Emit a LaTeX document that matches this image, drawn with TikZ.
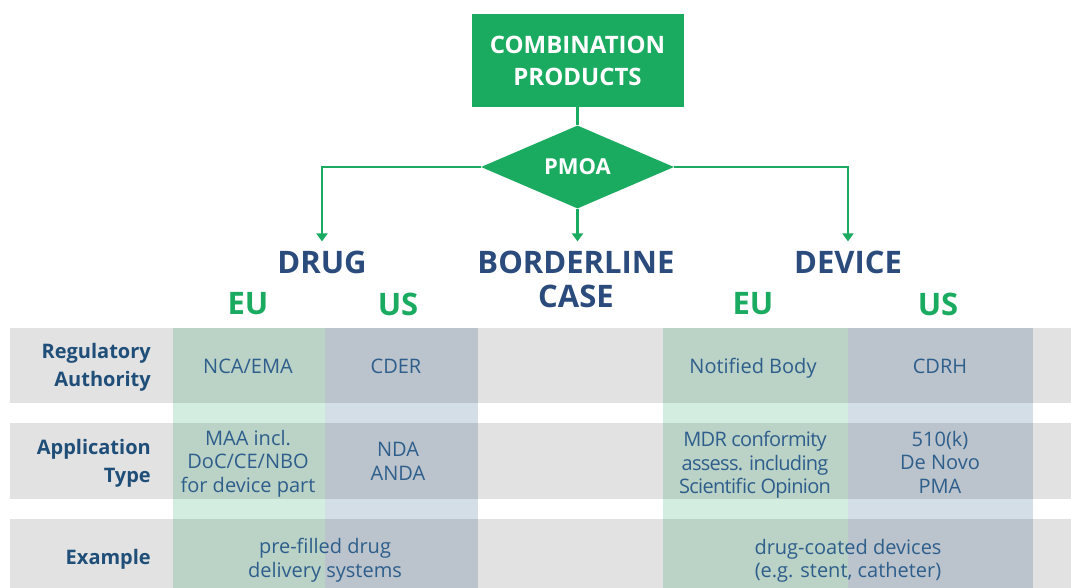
\documentclass[tikz,border=0pt]{standalone}
\usepackage{fontspec}
\setmainfont{Open Sans}
\usetikzlibrary{shapes.geometric,arrows.meta}
\definecolor{cgreen}{HTML}{1AAB60}
\definecolor{hblue}{HTML}{2A4B7C}
\definecolor{lblue}{HTML}{1F4E79}
\definecolor{tblue}{HTML}{2E5E8C}
\definecolor{colg}{HTML}{D3EEE0}
\definecolor{colb}{HTML}{D4DEE7}
\tikzset{
  topbox/.style={fill=cgreen, text=white, font=\bfseries\fontsize{24}{32}\selectfont, align=center, minimum width=212pt, minimum height=93pt, inner sep=0pt},
  dia/.style={diamond, fill=cgreen, text=white, font=\bfseries\fontsize{22}{25}\selectfont, minimum width=193pt, minimum height=79pt, inner sep=0pt},
  head/.style={text=hblue, font=\bfseries\fontsize{31}{34}\selectfont, align=center, inner sep=0pt},
  region/.style={text=cgreen, font=\bfseries\fontsize{31}{34}\selectfont, inner sep=0pt},
  rowlabel/.style={text=lblue, font=\bfseries\fontsize{20}{28}\selectfont, align=right, inner sep=0pt, anchor=east},
  cell/.style={text=tblue, font=\fontsize{20}{23.5}\selectfont, align=center, inner sep=0pt},
  tightcell/.style={cell, font=\fontsize{20}{23.5}\selectfont\addfontfeature{LetterSpace=-3.5}},
  conn/.style={draw=cgreen, line width=2.5pt},
  arr/.style={conn, -{Triangle[width=11pt,length=8pt]}, shorten >=9pt},
  band/.style={fill=black, fill opacity=0.115}
}
\begin{document}
\begin{tikzpicture}[x=1pt,y=-1pt]
\useasboundingbox[fill=white] (0,0) rectangle (1071,588);
% columns
\fill[colg] (173,328) rectangle (325,588);
\fill[colb] (325,328) rectangle (478,588);
\fill[colg] (663,328) rectangle (848,588);
\fill[colb] (848,328) rectangle (1033,588);
% gray bands
\fill[band] (10,328) rectangle (1071,403);
\fill[band] (10,423) rectangle (1071,499);
\fill[band] (10,519) rectangle (1071,588);

% flow
\node[topbox] (cp) at (577.5,60.5) {COMBINATION\\PRODUCTS};
\node[dia] (pmoa) at (577.5,167) {PMOA};
\node[head] (drug) at (322,262) {DRUG};
\node[head] (border) at (576,279) {BORDERLINE\\CASE};
\node[head] (device) at (848,262) {DEVICE};

\draw[conn] (cp) -- (pmoa);
\draw[arr] (pmoa.west) -| (drug.north);
\draw[arr] (pmoa.south) -- (pmoa.south |- border.north);
\draw[arr] (pmoa.east) -| (device.north);

% regions
\node[region] (eu1) at (248,304) {EU};
\node[region] (us1) at (398,304) {US};
\node[region] (eu2) at (753,304) {EU};
\node[region] (us2) at (938,304) {US};

% row labels
\node[rowlabel] (r1) at (151,367) {Regulatory\\Authority};
\node[rowlabel] (r2) at (151,463) {Application\\Type};
\node[rowlabel] (r3) at (151,559) {Example};

% cells
\node[cell] (c11) at (248,366) {NCA/EMA};
\node[cell] (c12) at (396,366) {CDER};
\node[cell] (c13) at (753,368.5) {Notified Body};
\node[cell] (c14) at (940,366) {CDRH};

\node[cell] (c21) at (248,463.5) {MAA incl.\\DoC/CE/NBO\\for device part};
\node[cell] (c22) at (398,461.5) {NDA\\ANDA};
\node[tightcell] (c23) at (755,465) {MDR conformity\\assess. including\\Scientific Opinion};
\node[cell] (c24) at (940,462) {510(k)\\De Novo\\PMA};

\node[cell] (c31) at (325,560) {pre-filled drug\\delivery systems};
\node[cell] (c32) at (848,561) {drug-coated devices\\(e.g. stent, catheter)};
\end{tikzpicture}
\end{document}
